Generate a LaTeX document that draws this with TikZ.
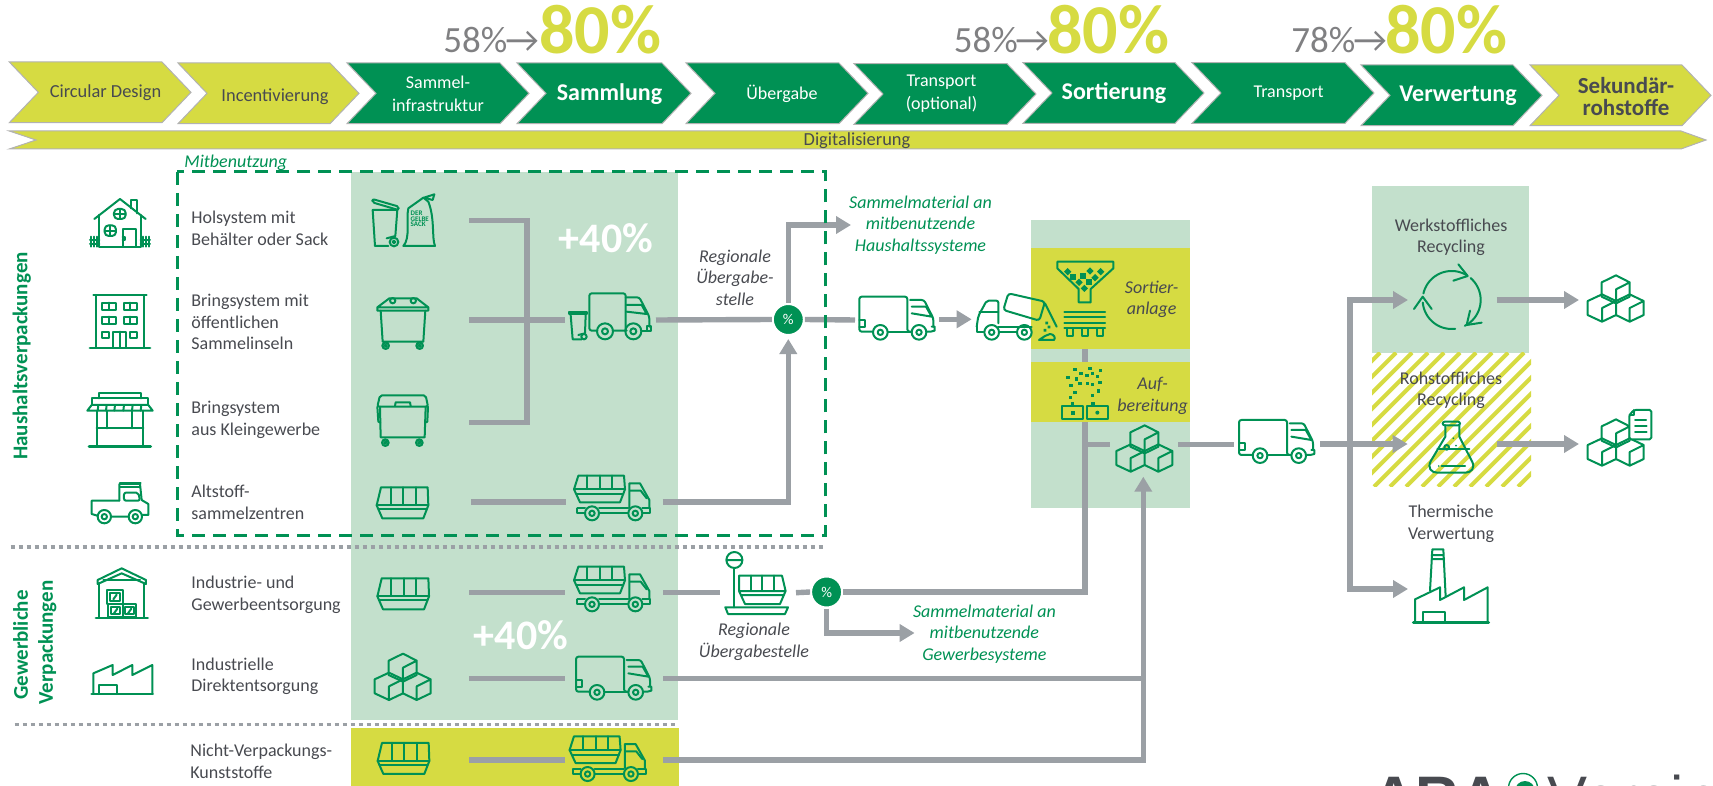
\documentclass[tikz,border=0pt]{standalone}
\usepackage{fontspec}
\setmainfont{Carlito}
\newfontfamily\logofont{Liberation Sans}
\usetikzlibrary{arrows.meta}
\definecolor{gr}{RGB}{0,145,84}
\definecolor{lgr}{RGB}{195,224,204}
\definecolor{yl}{RGB}{214,219,66}
\definecolor{gline}{RGB}{155,160,165}
\definecolor{txt}{RGB}{72,74,80}
\definecolor{pgray}{RGB}{128,128,130}
\newcommand{\chevblock}[5]{\path[chv,fill=#5] (#1,#3) -- (#2-29,#3) -- (#2,{(#3+#4)/2}) -- (#2-29,#4) -- (#1,#4) -- (#1+29,{(#3+#4)/2}) -- cycle;}
\tikzset{
 chv/.style={draw=black!30,line width=0.5pt},
 ic/.style={draw=gr,line width=1pt,line join=round,line cap=round},
 con/.style={draw=gline,line width=2.7pt},
 conar/.style={con,-{Triangle[length=7.5pt,width=8.5pt]}},
 lbl/.style={font=\fontsize{9}{10.75}\selectfont,text=txt,align=left,anchor=west,inner sep=0pt},
 clbl/.style={font=\fontsize{9}{10.75}\selectfont,text=txt,align=center,inner sep=0pt},
 dlbl/.style={font=\fontsize{9}{10.75}\selectfont\itshape,text=txt,align=center,inner sep=0pt},
 glbl/.style={font=\fontsize{9}{10.75}\selectfont\itshape,text=gr,align=center,inner sep=0pt},
 chl/.style={font=\fontsize{9.2}{10.75}\selectfont,text=txt,align=center,inner sep=0pt},
 chw/.style={font=\fontsize{9}{10.75}\selectfont,text=white,align=center,inner sep=0pt},
 chb/.style={font=\fontsize{12}{14}\selectfont\bfseries,text=white,align=center,inner sep=0pt},
 side/.style={font=\fontsize{10.5}{12}\selectfont\bfseries,text=gr,rotate=90,inner sep=0pt},
 pctA/.style={font=\fontsize{18.5}{20}\selectfont,text=pgray,anchor=base west,inner sep=0pt},
 pctB/.style={font=\fontsize{35}{36}\selectfont\bfseries,text=yl,anchor=base west,inner sep=0pt},
 plus/.style={font=\fontsize{21}{22}\selectfont\bfseries,text=white,inner sep=0pt},
 pctc/.style={circle,fill=gr,draw=white,line width=1pt,minimum size=31pt/2,inner sep=0pt,outer sep=0.5pt,text=white,font=\fontsize{7.5}{8}\selectfont},
 dotl/.style={draw=gline,line width=1.8pt,dash pattern=on 2.2pt off 1.8pt},
 pics/house/.style={code={\begin{scope}[scale=1/3]
  \draw[ic] (283,207)--(360,147)--(437,207);
  \draw[ic] (392,175)--(392,150)--(412,150)--(412,190);
  \draw[ic] (298,195)--(298,290)--(422,290)--(422,195);
  \draw[ic,rounded corners=2pt] (342,177) rectangle (377,207);
  \draw[ic] (359.5,177)--(359.5,207) (342,192)--(377,192);
  \draw[ic,rounded corners=2pt] (314,226) rectangle (348,258);
  \draw[ic] (331,226)--(331,258) (314,242)--(348,242);
  \draw[ic] (368,290)--(368,236)--(408,236)--(408,290) (368,260)--(376,260)--(376,270)--(368,270);
  \draw[ic] (272,260)--(272,290) (283,260)--(283,290) (292,260)--(292,290) (270,270)--(298,270) (270,282)--(298,282);
  \draw[ic] (428,260)--(428,290) (438,260)--(438,290) (448,260)--(448,290) (422,270)--(450,270) (422,282)--(450,282);
 \end{scope}}},
 pics/building/.style={code={\begin{scope}[scale=1/3]
  \draw[ic] (280,435)--(440,435) (288,435)--(288,594) (432,435)--(432,594);
  \draw[ic,line width=1.4pt] (270,594)--(450,594);
  \foreach \a/\b in {307/458,371/458,307/500,371/500}{\draw[ic] (\a,\b) rectangle (\a+40,\b+22) (\a+20,\b)--(\a+20,\b+22);}
  \draw[ic] (307,545) rectangle (327,563) (391,545) rectangle (411,563);
  \draw[ic] (340,594)--(340,545)--(378,545)--(378,594) (359,545)--(359,594);
 \end{scope}}},
 pics/shop/.style={code={\begin{scope}[scale=1/3]
  \draw[ic] (298,745)--(298,729)--(422,729)--(422,745);
  \draw[ic] (275,765)--(275,745)--(445,745)--(445,765);
  \draw[ic] (275,765)--(445,765)--(458,782)--(262,782)--cycle;
  \foreach \a in {295,320,345,372,398,424}{\draw[ic] (\a,765)--(\a-2,782);}
  \draw[ic] (290,782)--(290,888) (430,782)--(430,888);
  \draw[ic,line width=1.4pt] (267,889)--(452,889);
  \draw[ic] (322,782)--(322,835) (396,782)--(396,835) (290,835)--(430,835);
 \end{scope}}},
 pics/pickup/.style={code={\begin{scope}[scale=1/3]
  \draw[ic] (358,1052)--(358,1002)--(420,1002)--(425,1050)--(445,1062)--(445,1095)--(428,1095);
  \draw[ic] (360,1000)--(422,1000) (360,1012)--(420,1012);
  \draw[ic,rounded corners=1pt] (372,1052)--(372,1028)--(415,1028)--(420,1052)--cycle;
  \draw[ic] (358,1052)--(275,1052)--(275,1092)--(292,1097) (334,1100)--(385,1100);
  \draw[ic] (313,1100) circle[radius=20] (313,1100) circle[radius=8];
  \draw[ic] (406,1100) circle[radius=20] (406,1100) circle[radius=8];
 \end{scope}}},
 pics/warehouse/.style={code={\begin{scope}[scale=1/3]
  \draw[ic] (293,162)--(293,150)--(365,115)--(438,150)--(438,162)--(365,130)--cycle;
  \draw[ic] (298,160)--(298,263) (433,160)--(433,263) (310,150)--(420,150);
  \draw[ic,line width=1.4pt] (288,264)--(443,264);
  \draw[ic] (322,180) rectangle (368,222) (325,222) rectangle (368,262) (368,222) rectangle (408,262);
  \draw[ic] (330,190) rectangle (360,212) (332,232) rectangle (360,252) (375,232) rectangle (402,252);
  \draw[ic] (340,208)--(350,194) (342,250)--(352,236) (384,250)--(394,236);
 \end{scope}}},
 pics/smfactory/.style={code={\begin{scope}[scale=1/3]
  \draw[ic,line width=1.4pt] (275,492)--(458,492);
  \draw[ic] (280,492)--(280,430)--(338,405)--(338,435)--(397,405)--(397,435)--(457,405)--(457,492);
  \draw[ic] (298,492)--(298,465)--(350,465)--(350,492);
 \end{scope}}},
 pics/binbag/.style={code={\begin{scope}[scale=1/3]
  \draw[ic,rounded corners=1pt] (1117,147)--(1197,170)--(1195,180)--(1117,157)--cycle;
  \draw[ic] (1165,288)--(1125,288)--(1118,180)--(1192,180)--(1186,258)--(1160,265);
  \draw[ic] (1182,276) circle[radius=13] (1182,276) circle[radius=4];
  \draw[ic] (1210,288)--(1305,288) (1210,288) .. controls (1232,265) and (1218,205) .. (1225,175) -- (1270,143);
  \draw[ic] (1305,288) .. controls (1295,265) and (1305,205) .. (1285,155) -- (1270,143);
  \draw[ic] (1272,143)--(1303,133)--(1298,150)--cycle;
  \node[font=\fontsize{3.5}{2.6}\selectfont\bfseries,text=gr,align=left,anchor=north west,inner sep=0pt] (bagtext) at (1231,183) {DER\\GELBE\\SACK};
 \end{scope}}},
 pics/dumpA/.style={code={\begin{scope}[scale=1/3]
  \draw[ic] (1142,482)--(1148,575)--(1270,575)--(1276,482);
  \draw[ic] (1132,482)--(1285,482)--(1285,472)--(1250,445)--(1168,445)--(1132,472)--cycle (1132,472)--(1285,472);
  \draw[ic] (1178,452) circle[radius=8] (1240,452) circle[radius=8];
  \foreach \a in {1157,1259}{\draw[ic] (\a,587) circle[radius=10] (\a,587) circle[radius=3];}
 \end{scope}}},
 pics/dumpB/.style={code={\begin{scope}[scale=1/3]
  \draw[ic] (1140,770)--(1142,862)--(1274,862)--(1277,770);
  \draw[ic,rounded corners=1pt] (1132,770)--(1140,736)--(1277,736)--(1284,770)--cycle;
  \draw[ic] (1185,768)--(1187,757)--(1230,757)--(1232,768);
  \draw[ic] (1132,770)--(1135,815)--(1141,818) (1284,770)--(1282,815)--(1275,818);
  \foreach \a in {1156,1258}{\draw[ic] (\a,878) circle[radius=10] (\a,878) circle[radius=3];}
 \end{scope}}},
 pics/skip/.style={code={\begin{scope}[scale=1/3]
  \draw[ic] (1143,1012)--(1283,1012)--(1285,1066)--(1270,1105)--(1147,1105)--(1130,1066)--cycle;
  \draw[ic] (1130,1066)--(1285,1066) (1135,1078)--(1280,1078);
  \draw[ic] (1172,1012)--(1172,1062) (1209,1012)--(1209,1062) (1247,1012)--(1247,1062);
 \end{scope}}},
 pics/cubes/.style={code={\begin{scope}[scale=1/3]
  \draw[ic] (1166,392)--(1209,371)--(1250,392)--(1250,435)--(1209,455)--(1166,435)--cycle (1209,413)--(1250,392) (1209,413)--(1209,455);
  \draw[ic] (1124,448)--(1167,428)--(1209,448)--(1209,490)--(1167,510)--(1124,490)--cycle (1167,469)--(1209,448) (1167,469)--(1167,510);
  \draw[ic] (1209,448)--(1250,428)--(1292,448)--(1292,490)--(1250,510)--(1209,490) (1250,469)--(1292,448) (1250,469)--(1250,510);
 \end{scope}}},
 pics/bintruck/.style={code={\begin{scope}[scale=1/3]
  \draw[ic] (298,425)--(352,425)--(352,433)--(298,433)--cycle;
  \draw[ic] (302,435)--(308,508)--(335,508) (347,435)--(345,490)--(325,495);
  \draw[ic] (342,500) circle[radius=8];
  \draw[ic,rounded corners=1.2pt] (382,482)--(358,482)--(358,370)--(467,370)--(467,482);
  \draw[ic,rounded corners=1.2pt] (467,382)--(508,382)--(538,440)--(538,470);
  \draw[ic] (470,405)--(515,405)--(530,432)--(470,425) (467,482)--(470,482) (428,482)--(467,482);
  \draw[ic] (532,468) rectangle (542,484) (515,484)--(532,484);
  \foreach \a in {405,490}{\draw[ic] (\a,484) circle[radius=24] (\a,484) circle[radius=9];}
 \end{scope}}},
 pics/skiptruck/.style={code={\begin{scope}[scale=1/3]
  \draw[ic] (325,917)--(462,917)--(465,958)--(450,997)--(330,997)--(312,958)--cycle;
  \draw[ic] (312,958)--(465,958) (320,972)--(460,972);
  \draw[ic] (352,917)--(352,955) (390,917)--(390,955) (427,917)--(427,955);
  \draw[ic] (478,1012)--(478,940)--(510,940)--(538,990)--(538,1015);
  \draw[ic] (480,962)--(512,962)--(530,985);
  \draw[ic] (322,1015)--(345,1015) (322,1015)--(322,1030)--(345,1030) (387,1015)--(475,1015) (387,1030)--(475,1030) (517,1015)--(540,1015)--(540,1030)--(517,1030);
  \foreach \a in {366,496}{\draw[ic] (\a,1030) circle[radius=21] (\a,1030) circle[radius=8];}
 \end{scope}}},
 pics/truck/.style={code={\begin{scope}[scale=1/3]
  \draw[ic,rounded corners=1.2pt] (69,365)--(28,365)--(28,260)--(172,260)--(172,365)--(185,365);
  \draw[ic] (28,330)--(45,330)--(45,350)--(28,350);
  \draw[ic,rounded corners=1.2pt] (180,270)--(222,270)--(250,325)--(250,350);
  \draw[ic] (185,290)--(228,290)--(245,320)--(185,310);
  \draw[ic] (229,365)--(242,365)--(254,362)--(254,350)--(245,350);
  \draw[ic] (113,365)--(185,365);
  \foreach \a in {91,207}{\draw[ic] (\a,367) circle[radius=22] (\a,367) circle[radius=8];}
 \end{scope}}},
 pics/tipper/.style={code={\begin{scope}[scale=1/3]
  \draw[ic,rounded corners=1pt] (380,350)--(385,318)--(410,272)--(445,272)--(445,340);
  \draw[ic] (388,305)--(445,305) (380,350)--(380,365)--(400,365) (448,365)--(500,365) (445,350)--(545,350);
  \draw[ic,rounded corners=1.5pt] (475,250)--(585,275)--(568,332)--(460,300)--cycle;
  \draw[ic] (585,280)--(620,350);
  \foreach \a in {425,523}{\draw[ic] (\a,367) circle[radius=22] (\a,367) circle[radius=8];}
  \fill[gr] (586,335) rectangle +(8,8) (593,347) rectangle +(8,8) (581,357) rectangle +(8,8);
  \draw[ic] (567,390)--(612,390) .. controls (618,385) and (612,372) .. (600,372) -- (585,378) -- (567,390);
 \end{scope}}},
 pics/funnel/.style={code={\begin{scope}[scale=1/3]
  \draw[ic] (622,155)--(790,155)--(790,175)--(722,237)--(722,277)--(686,277)--(686,237)--(622,175)--cycle;
  \foreach \a/\b in {653/185,720/183,752/185,735/203,687/217,703/235}{\fill[gr] (\a,\b) +(-11,0) -- +(0,-11) -- +(11,0) -- +(0,11) -- cycle;}
  \foreach \a/\b in {670/200,700/197,718/217}{\fill[gr] (\a-9,\b-9) rectangle +(18,18);}
  \draw[ic] (643,307)--(765,307) (643,322)--(765,322) (643,338)--(765,338);
  \draw[ic] (643,355)--(765,355);
  \foreach \a in {650,695,740}{\draw[ic] (\a,355) rectangle +(20,22);}
 \end{scope}}},
 pics/grains/.style={code={\begin{scope}[scale=1/3]
  \foreach \a/\b in {675/478,693/490,720/476,752/482,654/502,680/507,711/497,727/490,743/500,663/527,690/521,712/520,727/523,750/517,675/548,662/562,745/543,727/556,668/580,729/580}{\fill[gr] (\a-5,\b-5) rectangle +(10,10);}
  \draw[ic] (637,587) rectangle (700,628) (710,587) rectangle (773,628);
  \fill[gr] (662,602) rectangle +(13,12);
  \fill[gr] (742,608) circle[radius=6];
 \end{scope}}},
 pics/recycle/.style={code={\begin{scope}[scale=1/3]
  \draw[ic] plot[domain=193:301,samples=24] ({755+87*cos(\x)},{390+87*sin(\x)});
  \draw[ic] plot[domain=-49:63,samples=24] ({755+87*cos(\x)},{390+87*sin(\x)});
  \draw[ic] plot[domain=83:175,samples=24] ({755+87*cos(\x)},{390+87*sin(\x)});
  \draw[ic] (775,283)--(803,318)--(760,332);
  \draw[ic] (810,422)--(800,465)--(845,458);
  \draw[ic] (642,417)--(668,380)--(695,417);
 \end{scope}}},
 pics/flask/.style={code={\begin{scope}[scale=1/3]
  \draw[ic,rounded corners=1pt] (728,755) rectangle (780,766);
  \draw[ic] (736,766)--(736,800)--(693,872) .. controls (680,895) and (695,908) .. (712,908) -- (796,908) .. controls (813,908) and (828,895) .. (815,872) -- (778,800)--(778,766);
  \draw[ic] (740,832) circle[radius=7];
  \draw[ic] (725,888)--(795,888) (712,838)--(808,838);
  \fill[gr] (768,827) circle[radius=3] (760,805) circle[radius=3] (716,888) circle[radius=2.5];
 \end{scope}}},
 pics/doc/.style={code={\begin{scope}[scale=1/3]
  \path[fill=white] (1302,720)--(1354,720)--(1354,808)--(1288,808)--(1288,735)--cycle;
  \draw[ic,rounded corners=0.8pt] (1302,720)--(1354,720)--(1354,808)--(1288,808)--(1288,735)--cycle;
  \draw[ic] (1288,735)--(1302,735)--(1302,720);
  \draw[ic] (1305,750)--(1338,750) (1305,768)--(1340,768) (1305,787)--(1340,787);
 \end{scope}}},
 pics/bigfactory/.style={code={\begin{scope}[scale=1/3]
  \draw[ic,line width=1.4pt] (640,488)--(866,488);
  \draw[ic] (645,488)--(645,418)--(720,382)--(720,420)--(792,382)--(792,420)--(863,382)--(863,488);
  \draw[ic] (668,488)--(668,455)--(735,455)--(735,488);
  \draw[ic] (690,392)--(697,268)--(730,268)--(737,410) (695,285)--(731,285) (695,297)--(732,297);
 \end{scope}}},
 pics/scaleicon/.style={code={
  \draw[ic] (734.4,560) circle[radius=8] (726.4,560)--(742.4,560);
  \draw[ic] (734.4,568)--(734.4,607.3);
  \draw[ic] (725.3,607.3)--(788,607.3)--(785,614)--(728,614)--cycle;
  \draw[ic] (739,575.7)--(782,575.7)--(785.6,591)--(780,604)--(745,604)--(739,591)--cycle (739,591)--(785.6,591) (741,595)--(784,595);
  \draw[ic] (750.7,575.7)--(750.7,590) (762,575.7)--(762,590) (774,575.7)--(774,590);
 }}
}
\begin{document}
\begin{tikzpicture}[x=0.5pt,y=-0.5pt]
\useasboundingbox (0,0) rectangle (1713,786);
% background panels
\fill[lgr] (351,172) rectangle (677.5,720);
\fill[yl] (351,727.7) rectangle (679,786);
\fill[lgr] (1031,220) rectangle (1190,507.7);
\fill[yl] (1031,247.7) rectangle (1190,349);
\fill[yl] (1031,362) rectangle (1190,421.7);
\fill[lgr] (1372,186) rectangle (1529,352.7);
\begin{scope}
 \clip (1372,352.7) rectangle (1531,486.7);
 \foreach \q in {1230,1246,...,1540}{\draw[yl,line width=2pt] (\q,486.7)--(\q+134,352.7);}
\end{scope}
% chevrons
\chevblock{9.3}{191}{62}{122.7}{yl}
\chevblock{178}{359}{63}{123.7}{yl}
\chevblock{347}{529}{63}{123.7}{gr}
\chevblock{517}{691}{63}{123.7}{gr}
\chevblock{686}{868}{63}{123.7}{gr}
\chevblock{854}{1036}{63.7}{124.3}{gr}
\chevblock{1023}{1204}{62.7}{123.3}{gr}
\chevblock{1192}{1374}{62.7}{123.3}{gr}
\chevblock{1361}{1542}{65}{125.7}{gr}
\chevblock{1530}{1711}{65}{125.7}{yl}
\path[chv,fill=yl] (9.3,131)--(1681,131)--(1706,140)--(1681,149)--(9.3,149)--(36,140)--cycle;
\node[chl] (c1) at (105.5,93) {Circular Design};
\node[chl] (c2) at (275,97) {Incentivierung};
\node[chw] (c3) at (438,94) {Sammel-\\[1pt]infrastruktur};
\node[chb] (c4) at (609.5,94) {Sammlung};
\node[chw] (c5) at (782,94) {Übergabe};
\node[chw] (c6) at (941.5,93.5) {Transport\\[1pt](optional)};
\node[chb] (c7) at (1114,93) {Sortierung};
\node[chw] (c8) at (1288.6,93) {Transport};
\node[chb] (c9) at (1458,96) {Verwertung};
\node[chb,text=txt,font=\fontsize{11.5}{11}\selectfont\bfseries] (c10) at (1626,96.5) {Sekundär-\\rohstoffe};
\node[chl] (dig) at (857,141) {Digitalisierung};
% percentages
\node[pctA] (pa1) at (443,53) {58\%}; \node[pctA] (pr1) at (505,53) {→}; \node[pctB] (pb1) at (539,54) {80\%};
\node[pctA] (pa2) at (953.5,53) {58\%}; \node[pctA] (pr2) at (1015,53) {→}; \node[pctB] (pb2) at (1047,54) {80\%};
\node[pctA] (pa3) at (1291,53) {78\%}; \node[pctA] (pr3) at (1353,53) {→}; \node[pctB] (pb3) at (1385,54) {80\%};
% connector ends
\coordinate (hol) at (469.3,220.7);
\coordinate (bring) at (469.3,320);
\coordinate (klein) at (469.3,422.5);
\coordinate (jb) at (527,422.5);
\coordinate (t1in) at (565,320);
\coordinate (t1out) at (656,320);
\coordinate (t3in) at (855,320);
\coordinate (ha) at (851,225);
\coordinate (alt) at (471,502);
\coordinate (t2in) at (566,502);
\coordinate (t2out) at (662.7,502);
\coordinate (t3out) at (939,319.3);
\coordinate (tipin) at (971.7,319.3);
\coordinate (ind) at (469.3,592.7);
\coordinate (t5in) at (565.4,592.7);
\coordinate (t5out) at (663,592.7);
\coordinate (sin) at (720,592.7);
\coordinate (sout) at (796,592.7);
\coordinate (sortup) at (1085,421.7);
\coordinate (sorta) at (1085,349);
\coordinate (sortb) at (1085,362);
\coordinate (cubin) at (1110,444.3);
\coordinate (cubj) at (1085,444.3);
\coordinate (cubout) at (1178,444.3);
\coordinate (t4in) at (1234.3,444.3);
\coordinate (t4out) at (1320,444);
\coordinate (rohin) at (1407.7,444);
\coordinate (vtop) at (1350,300);
\coordinate (vbot) at (1350,589);
\coordinate (wtip) at (1408,300);
\coordinate (ttip) at (1408,589);
\coordinate (gew) at (914.6,633);
\coordinate (dir) at (469.3,678.3);
\coordinate (t6in) at (565.4,678.3);
\coordinate (t6out) at (663,678.3);
\coordinate (jd) at (1143.3,678.3);
\coordinate (nv) at (469.3,760);
\coordinate (t7in) at (565.4,760);
\coordinate (t7out) at (663,760);
\coordinate (vcorner) at (1143.3,760);
\coordinate (vtip) at (1143.3,476.7);
\coordinate (o1a) at (1496.7,300);
\coordinate (o1b) at (1579,300);
\coordinate (o2a) at (1496.7,444);
\coordinate (o2b) at (1579,444);
% percent nodes
\node[pctc] (p1) at (788.3,319.5) {\%};
\node[pctc] (p2) at (826.6,592) {\%};
% connectors
\draw[con] (hol) -| (jb) -- (klein);
\draw[con] (bring) -- (t1in);
\draw[con] (t1out) -- (p1.west);
\draw[con] (p1.east) -- (t3in);
\draw[conar] (p1.north) |- (ha);
\draw[conar] (t2out) -| ([yshift=-1.5pt]p1.south);
\draw[con] (alt) -- (t2in);
\draw[conar] (t3out) -- (tipin);
\draw[con] (sorta) -- (sortb);
\draw[con] (ind) -- (t5in);
\draw[con] (t5out) -- (sin);
\draw[con] (sout) -- (p2.west);
\draw[con] (p2.east) -| (sortup);
\draw[con] (cubj) -- (cubin);
\draw[conar] (p2.south) |- (gew);
\draw[con] (cubout) -- (t4in);
\draw[conar] (t4out) -- (rohin);
\draw[conar] (vbot) -- (vtop) -- (wtip);
\draw[conar] (vtop) -- (vbot) -- (ttip);
\draw[conar] (o1a) -- (o1b);
\draw[conar] (o2a) -- (o2b);
\draw[con] (dir) -- (t6in);
\draw[con] (t6out) -- (jd);
\draw[con] (nv) -- (t7in);
\draw[conar] (t7out) -- (vcorner) -- (vtip);
% dotted separators and shared-use frame
\draw[dotl] (10.7,546.7) -- (826,546.7);
\draw[dotl] (14.7,724.3) -- (675,724.3);
\draw[draw=gr,line width=1.5pt,dash pattern=on 6.5pt off 4pt] (177.3,172) rectangle (825.7,535);
\node[glbl,anchor=west] (mit) at (184,163) {Mitbenutzung};
% icons
\pic at (0,150) {house};
\pic at (0,150) {building};
\pic at (0,150) {shop};
\pic at (0,150) {pickup};
\pic at (0,530) {warehouse};
\pic at (0,530) {smfactory};
\pic at (0,150) {binbag};
\pic at (0,150) {dumpA};
\pic at (0,150) {dumpB};
\pic at (0,150) {skip};
\pic at (0.7,241) {skip};
\pic at (1,405.6) {skip};
\pic at (0,530) {cubes};
\pic at (741.7,301.7) {cubes};
\pic at (1213,151.7) {cubes};
\pic at (1213,295.7) {cubes};
\pic at (470,170) {bintruck};
\pic at (470,170) {skiptruck};
\pic at (470,261) {skiptruck};
\pic at (465.6,430.7) {skiptruck};
\pic at (850,210) {truck};
\pic at (1229.7,333.3) {truck};
\pic at (566.7,570) {truck};
\pic at (850,210) {tipper};
\pic at (850,210) {funnel};
\pic at (850,210) {grains};
\pic at (1200,170) {recycle};
\pic at (1200,170) {flask};
\pic at (1200,170) {doc};
\pic at (1200,460) {bigfactory};
\pic at (0,0) {scaleicon};
% side labels
\node[side] (hv) at (21.7,356) {Haushaltsverpackungen};
\node[side] (gv1) at (20.7,645) {Gewerbliche};
\node[side] (gv2) at (47.3,642.5) {Verpackungen};
% row labels
\node[lbl] (l1) at (191,228.5) {Holsystem mit\\Behälter oder Sack};
\node[lbl] (l2) at (191,322) {Bringsystem mit\\öffentlichen\\Sammelinseln};
\node[lbl] (l3) at (191,419.7) {Bringsystem\\aus Kleingewerbe};
\node[lbl] (l4) at (191,502.2) {Altstoff-\\sammelzentren};
\node[lbl] (l5) at (191,594.7) {Industrie- und\\Gewerbeentsorgung};
\node[lbl] (l6) at (191,676.2) {Industrielle\\Direktentsorgung};
\node[lbl] (l7) at (190,761.5) {Nicht-Verpackungs-\\Kunststoffe};
% plus labels
\node[plus] (pl1) at (606,238) {+40\%};
\node[plus] (pl2) at (521,635) {+40\%};
% italic labels
\node[dlbl] (u1) at (735,277.7) {Regionale\\Übergabe-\\stelle};
\node[glbl] (s1) at (920.5,225) {Sammelmaterial an\\mitbenutzende\\Haushaltssysteme};
\node[dlbl] (u2) at (754,641.7) {Regionale\\Übergabestelle};
\node[glbl] (s2) at (984.4,634) {Sammelmaterial an\\mitbenutzende\\Gewerbesysteme};
\node[dlbl] (so) at (1151.7,299.5) {Sortier-\\anlage};
\node[dlbl] (au) at (1152.7,395.8) {Auf-\\bereitung};
% recycling labels
\node[clbl] (w) at (1451,237.2) {Werkstoffliches\\Recycling};
\node[clbl] (r) at (1451,390.5) {Rohstoffliches\\Recycling};
\node[clbl] (t) at (1451,524) {Thermische\\Verwertung};
% logo (cut off by the lower edge)
\begin{scope}
 \clip (0,0) rectangle (1713,786);
 \node[font=\fontsize{30}{31}\selectfont\logofont\bfseries,text=txt,anchor=base west,inner sep=0pt] (ara) at (1372,818.5) {ARA};
 \draw[gr,line width=0.7pt] (1523,788) circle[radius=14.5];
 \fill[gr] (1525,791) circle[radius=10];
 \node[font=\fontsize{30}{31}\selectfont\logofont,text=txt,anchor=base west,inner sep=0pt] (ver) at (1547,818.5) {Verein};
\end{scope}
\end{tikzpicture}
\end{document}
